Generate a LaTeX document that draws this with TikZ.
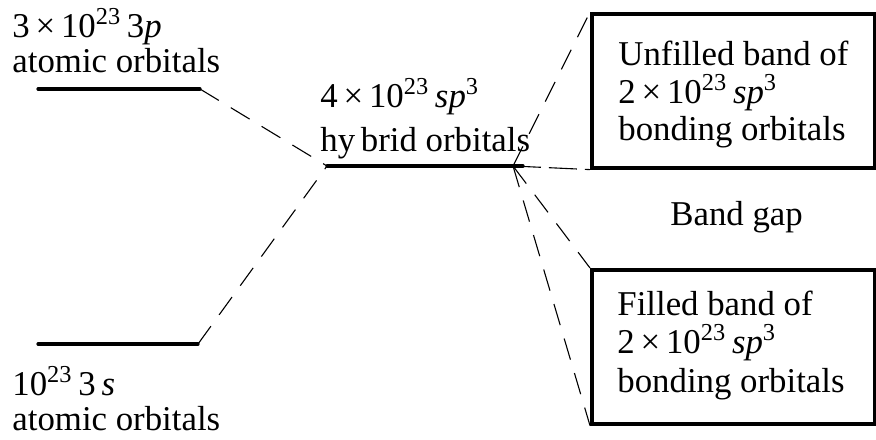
\documentclass[tikz,border=0pt]{standalone}
\usepackage{fontspec}
\setmainfont{Liberation Serif}
\begin{document}
\begin{tikzpicture}[x=0.5pt,y=-0.5pt,
  txt/.style={inner sep=0pt, anchor=base west, font=\fontsize{17.4}{20}\selectfont},
  level/.style={line width=1.6pt, line cap=round},
  dashline/.style={line width=0.55pt, dash pattern=on 11pt off 7pt},
  bandbox/.style={draw, line width=1.8pt, anchor=north west, inner sep=0pt,
    minimum width=141.5pt, minimum height=77pt}]
\useasboundingbox (0,0) rectangle (876,439);
% levels
\coordinate (pL) at (38,89);  \coordinate (pR) at (200,89);
\coordinate (sL) at (38,344); \coordinate (sR) at (198,344);
\coordinate (hL) at (327,166); \coordinate (hR) at (513,166); \coordinate (hE) at (523,166);
\draw[level] (pL) -- (pR);
\draw[level] (sL) -- (sR);
\draw[level] (hL) -- (hE);
% boxes
\node[bandbox] (ub) at (590,12) {};
\node[bandbox] (lb) at (590,268) {};
% connectors
\draw[dashline] (pR) -- (hL);
\draw[dashline] (sR) -- (hL);
\draw[dashline] (hR) -- (ub.north west);
\draw[dashline, dash pattern=on 14pt off 4pt] (hR) -- (ub.south west);
\draw[dashline] (hR) -- (lb.north west);
\draw[dashline] (hR) -- (lb.south west);
% texts
\node[txt] (t1) at (12,37) {3\,×\,10\textsuperscript{23}\,3\textit{p}};
\node[txt] (t2) at (12,72) {atomic orbitals};
\node[txt] (t3) at (12,395) {10\textsuperscript{23}\,3\,\textit{s}};
\node[txt] (t4) at (12,430) {atomic orbitals};
\node[txt] (t5) at (320,107) {4\,×\,10\textsuperscript{23}\,\textit{sp}\textsuperscript{3}};
\node[txt] (t6) at (320,151) {hy\,brid orbitals};
\node[txt] (t7) at (670,225) {Band gap};
\node[txt] (u1) at (618,65) {Unfilled band of};
\node[txt] (u2) at (618,103) {2\,×\,10\textsuperscript{23}\,\textit{sp}\textsuperscript{3}};
\node[txt] (u3) at (618,140) {bonding orbitals};
\node[txt] (l1) at (617,315) {Filled band of};
\node[txt] (l2) at (617,353) {2\,×\,10\textsuperscript{23}\,\textit{sp}\textsuperscript{3}};
\node[txt] (l3) at (617,392) {bonding orbitals};
\end{tikzpicture}
\end{document}
